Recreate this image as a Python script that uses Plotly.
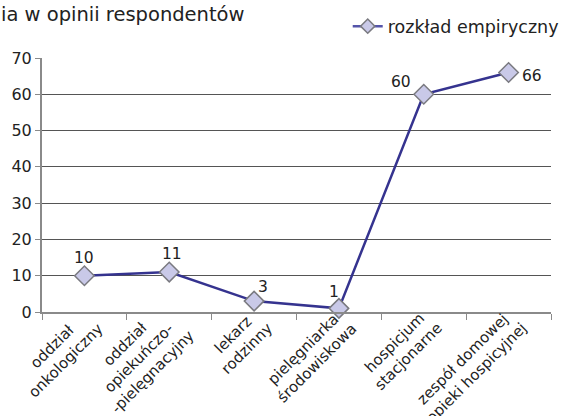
import plotly.graph_objects as go

categories = [
    "oddział<br>onkologiczny",
    "oddział<br>opiekuńczo-<br>-pielęgnacyjny",
    "lekarz<br>rodzinny",
    "pielęgniarka<br>środowiskowa",
    "hospicjum<br>stacjonarne",
    "zespół domowej<br>opieki hospicyjnej",
]
values = [10, 11, 3, 1, 60, 66]
series_name = "rozkład empiryczny"
title_text = "ia w opinii respondentów"
y_ticks = [0, 10, 20, 30, 40, 50, 60, 70]

# pixel offsets of each value label from its marker
label_dx = [0, 3, 9, -5, -23, 23]
label_dy = [18, 18, 14, 16, 12, -3]

FONT = "DejaVu Sans"
TEXT = "#222222"
LINE = "#35338f"
MARKER = dict(symbol="diamond", size=15, color="#c9c9e8",
              line=dict(color="#7a7a80", width=1.5))
CAT_FONT = 15

fig = go.Figure()
fig.add_trace(go.Scatter(
    x=categories,
    y=values,
    mode="lines+markers",
    name=series_name,
    showlegend=False,
    line=dict(color=LINE, width=2.5),
    marker=MARKER,
    cliponaxis=False,
))
# legend entry with a smaller symbol
fig.add_trace(go.Scatter(
    x=[None], y=[None],
    mode="lines+markers",
    name=series_name,
    line=dict(color="#5555aa", width=2.5),
    marker=dict(symbol="diamond", size=11, color="#c9c9e8",
                line=dict(color="#7a7a80", width=1.5)),
))

annotations = [
    dict(x=c, y=v, text=str(v), showarrow=False, xshift=dx, yshift=dy,
         font=dict(family=FONT, size=15.5, color=TEXT))
    for c, v, dx, dy in zip(categories, values, label_dx, label_dy)
]

# rotated, centre-aligned category labels; the rotated block's right-edge
# midpoint sits just right of the category centre, below the axis
for c in categories:
    n_lines = c.count("<br>") + 1
    h = n_lines * CAT_FONT * 1.3 + 4
    half = 0.3536 * h
    annotations.append(dict(
        x=c, xref="x", y=0, yref="paper",
        text=c, textangle=-45, align="center",
        xanchor="right", yanchor="top",
        xshift=10 + half, yshift=half - 6,
        showarrow=False,
        font=dict(family=FONT, size=CAT_FONT, color=TEXT),
    ))

annotations.append(dict(
    text=title_text, xref="paper", yref="paper", x=-0.085, xanchor="left",
    y=1.17, yanchor="middle", showarrow=False,
    font=dict(family=FONT, size=19.5, color=TEXT),
))

fig.update_layout(
    width=572, height=416,
    margin=dict(l=42, r=8, t=54, b=104),
    paper_bgcolor="white", plot_bgcolor="white",
    font=dict(family=FONT, size=15, color=TEXT),
    showlegend=True,
    legend=dict(x=1.025, xanchor="right", y=1.125, yanchor="middle",
                font=dict(family=FONT, size=17.5, color=TEXT),
                bgcolor="rgba(0,0,0,0)", itemwidth=30),
    annotations=annotations,
)

fig.update_xaxes(
    type="category",
    categoryarray=categories,
    range=[-0.5, len(categories) - 0.5],
    automargin=False,
    showticklabels=False,
    showline=True, linecolor="#8a8a8a", linewidth=2,
    ticks="outside", tickson="boundaries", ticklen=6, tickcolor="#8a8a8a",
    showgrid=False, zeroline=False,
)
fig.update_yaxes(
    range=[0, 70],
    tickvals=y_ticks,
    automargin=False,
    tickfont=dict(family=FONT, size=16, color=TEXT),
    showline=True, linecolor="#8a8a8a", linewidth=2,
    ticks="outside", ticklen=5, tickcolor="#8a8a8a",
    showgrid=True, gridcolor="#555555", gridwidth=1,
    zeroline=False,
)

fig.write_html("out.html")
